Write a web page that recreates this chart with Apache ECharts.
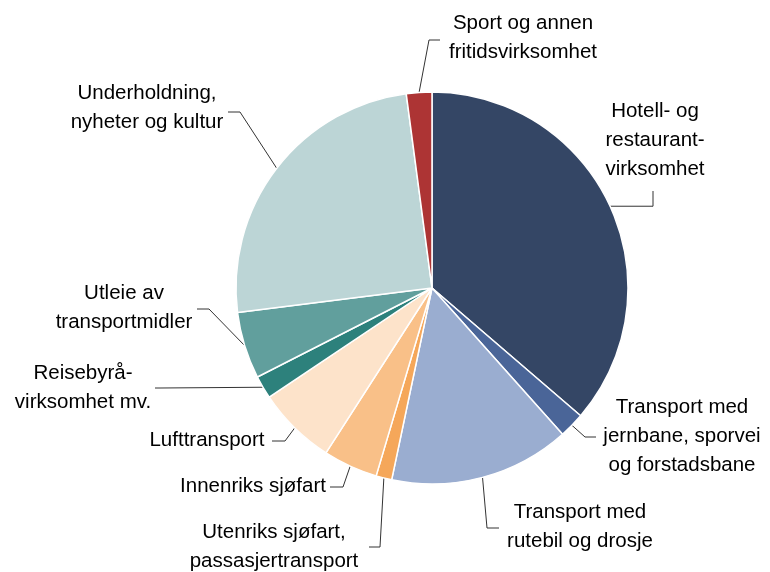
<!DOCTYPE html>
<html>
<head>
<meta charset="utf-8">
<script src="https://cdn.jsdelivr.net/npm/echarts@6/dist/echarts.min.js"></script>
<style>html,body{margin:0;padding:0;background:#fff}#c{width:770px;height:572px}</style>
</head>
<body>
<div id="c"></div>
<script>
var categories = [
  'Hotell- og\nrestaurant-\nvirksomhet',
  'Transport med\njernbane, sporvei\nog forstadsbane',
  'Transport med\nrutebil og drosje',
  'Utenriks sjøfart,\npassasjertransport',
  'Innenriks sjøfart',
  'Lufttransport',
  'Reisebyrå-\nvirksomhet mv.',
  'Utleie av\ntransportmidler',
  'Underholdning,\nnyheter og kultur',
  'Sport og annen\nfritidsvirksomhet'
];
var values = [36.3, 2.1, 14.9, 1.3, 4.5, 6.5, 1.9, 5.5, 24.9, 2.1];
var colors = ['#344665', '#4a6598', '#9aadd0', '#f5a75a', '#f9c088', '#fde3ca', '#2d817c', '#619f9d', '#bcd5d6', '#ad3434'];

// label placement (text centre) and leader-line elbow points
var labelCenters = [[655,140],[682,436],[580,527],[274,547],[253,486],[207,440],[83,388],[124,308],[147,108],[523,38]];
var elbows = [
  [[653,null],[653,191]],
  [[585,437],[596,437]],
  [[487,528],[499,528]],
  [[380,547],[369,547]],
  [[343,487],[330,487]],
  [[285,441],[272,441]],
  [[160,388],[155,388]],
  [[209,309],[197,309]],
  [[240,112],[228,112]],
  [[429,40],[440,40]]
];

var chart = echarts.init(document.getElementById('c'), null, {renderer:'canvas'});
var data = categories.map(function(n,i){ return {name:n, value:values[i], itemStyle:{color:colors[i]}}; });
chart.setOption({
  animation:false,
  backgroundColor:'#fff',
  series:[{
    type:'pie',
    center:[432,288],
    radius:196,
    startAngle:90,
    clockwise:true,
    avoidLabelOverlap:false,
    data:data,
    itemStyle:{borderColor:'#fff', borderWidth:1.5},
    label:{show:true, position:'outside', formatter:'{b}', color:'#000',
      fontFamily:'Liberation Sans, Arial, sans-serif', fontSize:20.5, lineHeight:29, align:'center'},
    labelLine:{show:true, lineStyle:{color:'#333', width:1}},
    labelLayout:function(p){
      var i = p.dataIndex;
      var c = labelCenters[i];
      var p0 = p.labelLinePoints ? p.labelLinePoints[0] : [c[0],c[1]];
      var e = elbows[i];
      var a = [e[0][0], e[0][1]==null ? p0[1] : e[0][1]];
      return {x:c[0], y:c[1], align:'center', verticalAlign:'middle',
        labelLinePoints:[[p0[0],p0[1]], a, [e[1][0], e[1][1]]]};
    }
  }]
});
</script>
</body>
</html>
